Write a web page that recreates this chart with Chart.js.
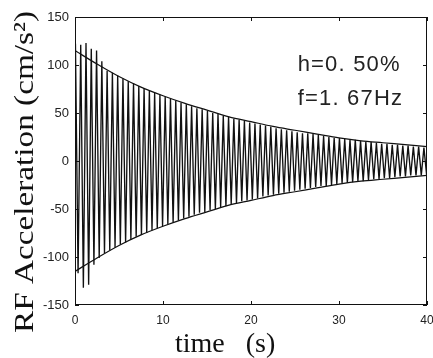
<!DOCTYPE html>
<html><head><meta charset="utf-8">
<script src="https://cdn.jsdelivr.net/npm/chart.js@4/dist/chart.umd.min.js"></script>
<style>html,body{margin:0;padding:0;background:#fff;overflow:hidden}</style>
</head><body>
<canvas id="c" width="433" height="358" style="display:block;width:433px;height:358px"></canvas>
<script>
// Peak times (s) and peak accelerations (cm/s^2)
const peakTimes = [
 0.05,0.35,0.65,0.95,1.25,1.55,1.85,2.15,2.45,2.75,
 3.05,3.35,3.65,3.95,4.25,4.55,4.85,5.15,5.45,5.75,
 6.05,6.35,6.65,6.95,7.25,7.55,7.85,8.15,8.45,8.75,
 9.05,9.35,9.65,9.95,10.25,10.55,10.85,11.15,11.45,11.75,
 12.05,12.35,12.65,12.95,13.25,13.55,13.85,14.15,14.45,14.75,
 15.05,15.35,15.65,15.95,16.25,16.55,16.85,17.15,17.45,17.75,
 18.05,18.35,18.65,18.95,19.25,19.55,19.85,20.15,20.45,20.75,
 21.05,21.35,21.65,21.95,22.25,22.55,22.85,23.15,23.45,23.75,
 24.05,24.35,24.65,24.95,25.25,25.55,25.85,26.15,26.45,26.75,
 27.05,27.35,27.65,27.95,28.25,28.55,28.85,29.15,29.45,29.75,
 30.05,30.35,30.65,30.95,31.25,31.55,31.85,32.15,32.45,32.75,
 33.05,33.35,33.65,33.95,34.25,34.55,34.85,35.15,35.45,35.75,
 36.05,36.35,36.65,36.95,37.25,37.55,37.85,38.15,38.45,38.75,
 39.05,39.35,39.65,39.95
];
const peakValues = [
 122,-117,121,-132,123,-129,117,-108,115,-101,
 104,-96,94,-93,92,-90,89,-87,86,-85,
 83,-82,81,-79,78,-77,76,-75,73,-72,
 71,-70,69,-68,67,-66,65,-64,63,-62,
 61,-60,59,-58,57,-56,55,-54,54,-53,
 52,-51,50,-50,49,-48,47,-47,46,-45,
 44,-44,43,-42,42,-41,40,-40,39,-39,
 38,-37,37,-36,36,-35,34,-34,33,-33,
 32,-32,31,-31,30,-30,29,-29,29,-28,
 28,-27,27,-26,26,-26,25,-25,24,-24,
 24,-23,23,-23,22,-22,22,-21,21,-21,
 20,-20,20,-19,19,-19,18,-18,18,-18,
 17,-17,17,-16,16,-16,16,-15,15,-15,
 15,-15,14,-14
];
// Decay envelope
const envTimes = [0,2.5,5,7.5,10,12.5,15,17.5,20,22.5,25,27.5,30,32.5,35,37.5,40];
const envUpper = [115,101,88,77,68,60,53,46,41,36,32,28,24,21,19,17,15];
const envLower = [-115,-101,-88,-77,-68,-60,-53,-46,-41,-36,-32,-28,-24,-21,-19,-17,-15];
// Axes and text
const xTicks = [0,10,20,30,40];
const yTicks = [-150,-100,-50,0,50,100,150];
const xTitle = 'time   (s)';
const yTitle = 'RF Acceleration (cm/s\u00B2)';
const noteLines = ['h=0. 50%', 'f=1. 67Hz'];
const notePos = {x: 25.3, y: [94, 58]};

const toXY = (xs, ys) => xs.map((x, i) => ({x, y: ys[i]}));

const frame = {
  id: 'frame',
  afterDatasetsDraw(chart) {
    const {ctx, chartArea: a, scales: {x, y}} = chart;
    ctx.save();
    ctx.strokeStyle = '#111';
    ctx.lineWidth = 1;
    ctx.strokeRect(a.left + 0.5, a.top + 0.5, a.right - a.left - 1, a.bottom - a.top - 1);
    ctx.beginPath();
    const L = 4;
    xTicks.forEach(v => {
      const px = Math.round(x.getPixelForValue(v)) + 0.5;
      ctx.moveTo(px, a.bottom); ctx.lineTo(px, a.bottom - L);
      ctx.moveTo(px, a.top); ctx.lineTo(px, a.top + L);
    });
    yTicks.forEach(v => {
      const py = Math.round(y.getPixelForValue(v)) + 0.5;
      ctx.moveTo(a.left, py); ctx.lineTo(a.left + L, py);
      ctx.moveTo(a.right, py); ctx.lineTo(a.right - L, py);
    });
    ctx.stroke();
    // annotation
    ctx.fillStyle = '#222';
    ctx.font = '22px "Liberation Sans", Arial, sans-serif';
    ctx.letterSpacing = '1.2px';
    ctx.textBaseline = 'alphabetic';
    ctx.textAlign = 'left';
    noteLines.forEach((t, i) => {
      ctx.fillText(t, x.getPixelForValue(notePos.x), y.getPixelForValue(notePos.y[i]));
    });
    ctx.letterSpacing = '0px';
    // x title
    ctx.fillStyle = '#111';
    ctx.font = '28px "Liberation Serif", "Times New Roman", serif';
    ctx.textAlign = 'left';
    ctx.fillText(xTitle, a.left + 100, a.bottom + 47);
    // y title (stretched along its length to match the reference)
    ctx.font = '28px "Liberation Serif", "Times New Roman", serif';
    const w = ctx.measureText(yTitle).width;
    ctx.translate(a.left - 42, a.top + 155);
    ctx.rotate(-Math.PI / 2);
    ctx.scale(322 / w, 1);
    ctx.textAlign = 'center';
    ctx.fillText(yTitle, 0, 0);
    ctx.restore();
  }
};

new Chart(document.getElementById('c'), {
  type: 'line',
  data: {
    datasets: [
      {data: toXY(peakTimes, peakValues), borderColor: '#111', borderWidth: 1.35, pointRadius: 0, tension: 0, fill: false},
      {data: toXY(envTimes, envUpper), borderColor: '#111', borderWidth: 1.2, pointRadius: 0, cubicInterpolationMode: 'monotone', fill: false},
      {data: toXY(envTimes, envLower), borderColor: '#111', borderWidth: 1.2, pointRadius: 0, cubicInterpolationMode: 'monotone', fill: false}
    ]
  },
  options: {
    responsive: false,
    animation: false,
    devicePixelRatio: 1,
    layout: {padding: {left: 0, top: 17, right: 6, bottom: 0}},
    plugins: {legend: {display: false}, tooltip: {enabled: false}},
    scales: {
      x: {
        type: 'linear', min: 0, max: 40,
        afterBuildTicks: s => { s.ticks = xTicks.map(v => ({value: v})); },
        afterFit: s => { s.height = 53; s.paddingLeft = 0; s.paddingRight = 0; },
        grid: {display: false, drawTicks: false},
        border: {display: false},
        ticks: {padding: 8, color: '#222', maxRotation: 0, font: {family: '"Liberation Sans", Arial, sans-serif', size: 12}},
        title: {display: false}
      },
      y: {
        type: 'linear', min: -150, max: 150,
        afterBuildTicks: s => { s.ticks = yTicks.map(v => ({value: v})); },
        afterFit: s => { s.width = 75; s.paddingTop = 0; s.paddingBottom = 0; },
        grid: {display: false, drawTicks: false},
        border: {display: false},
        ticks: {padding: 6, color: '#222', font: {family: '"Liberation Sans", Arial, sans-serif', size: 13}},
        title: {display: false}
      }
    }
  },
  plugins: [frame]
});
</script>
</body></html>
